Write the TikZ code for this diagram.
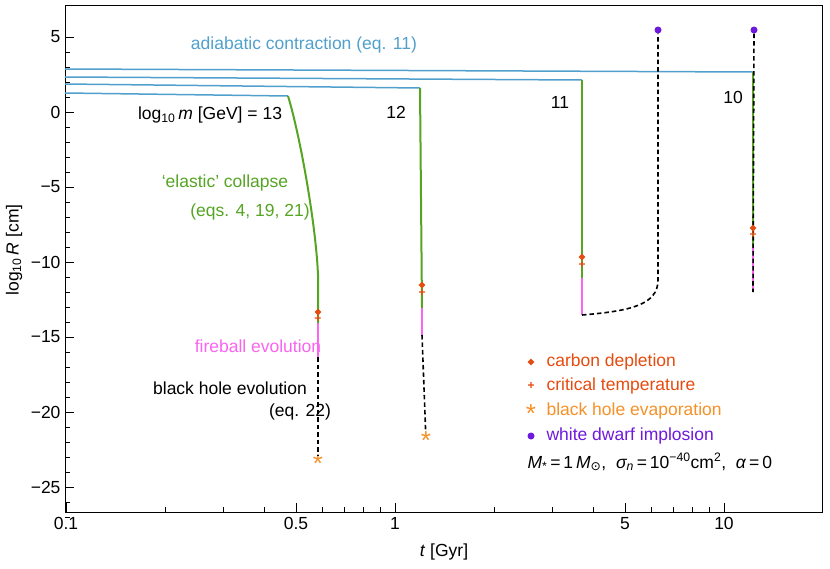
\documentclass[tikz,border=0pt]{standalone}
\usepackage{fontspec}
\setmainfont{Liberation Sans}
\newfontfamily\symfont{DejaVu Sans}
\usetikzlibrary{shapes.geometric}
\definecolor{adiab}{RGB}{80,160,205}
\definecolor{elast}{RGB}{85,165,35}
\definecolor{fireb}{RGB}{250,100,240}
\definecolor{carb}{RGB}{230,75,15}
\definecolor{evap}{RGB}{245,145,40}
\definecolor{wdimp}{RGB}{110,25,220}
\newcommand{\mn}{−}
\begin{document}
\begin{tikzpicture}[x=1pt,y=-1pt,font=\fontsize{17.5}{20}\selectfont,
  adia/.style={adiab,line width=1.5pt},
  coll/.style={elast,line width=2pt},
  fire/.style={fireb,line width=2pt},
  bh/.style={black,line width=1.6pt,dash pattern=on 4.5pt off 3pt},
  cdep/.style={diamond,fill=carb,inner sep=0pt,minimum size=7pt},
  ctemp/.style={font=\bfseries\fontsize{12}{12}\selectfont,text=carb,inner sep=0pt},
  bhev/.style={font=\fontsize{26}{26}\selectfont,text=evap,inner sep=0pt,yshift=-3pt},
  wdot/.style={circle,fill=wdimp,inner sep=0pt,minimum size=7pt}]
  \useasboundingbox (0,0) rectangle (830,568);
  % frame and ticks
  \draw[thin] (65,5) rectangle (822,512);
  \foreach \t in {0.2,0.3,0.4,0.6,0.7,0.8,0.9,2,3,4,6,7,8,9}
    \draw[thin] ({66+329*log10(\t*10)},512) -- +(0,-5);
  \foreach \t in {0.1,0.5,1,5,10}{
    \draw[thin] ({66+329*log10(\t*10)},512) -- +(0,-9);
    \node[anchor=north] at ({66+329*log10(\t*10)},514) {\t};}
  \foreach \r in {4,3,...,-27}
    \draw[thin] (65,{112-15*\r}) -- +(5,0);
  \foreach \r/\lab in {5/5,0/0,-5/\mn5,-10/\mn10,-15/\mn15,-20/\mn20,-25/\mn25}{
    \draw[thin] (65,{112-15*\r}) -- +(9,0);
    \node[anchor=east] at (64,{112-15*\r}) {\lab};}
  \node (xlab) at (444,552) {\textit{t} [Gyr]};
  \node[rotate=90] (ylab) at (14,250) {log\textsubscript{10}\,\textit{R} [cm]};
  % adiabatic contraction
  \coordinate (a13) at (288,96);
  \coordinate (a12) at (420,88);
  \coordinate (a11) at (582,80);
  \coordinate (a10) at (753,72);
  \draw[adia] (65,93) -- (a13);
  \draw[adia] (65,84) -- (a12);
  \draw[adia] (65,77) -- (a11);
  \draw[adia] (65,69) -- (a10);
  % m = 13
  \coordinate (p13) at (318,357);
  \draw[coll] (a13) .. controls (300,135) and (316,225) .. (318,275) -- (318,323);
  \draw[fire] (318,323) -- (p13);
  \node[bhev] (e13) at (318,461) {*};
  \draw[bh] (p13) -- (e13);
  \node[cdep] (d13) at (318,312) {};
  \node[ctemp] (c13) at (318,319) {+};
  % m = 12
  \coordinate (p12) at (422,335);
  \draw[coll] (a12) -- (422,308);
  \draw[fire] (422,308) -- (p12);
  \node[bhev] (e12) at (426,438) {*};
  \draw[bh] (p12) -- (e12);
  \node[cdep] (d12) at (422,285) {};
  \node[ctemp] (c12) at (422,293) {+};
  % m = 11
  \coordinate (p11) at (582,315);
  \node[wdot] (w11) at (658,30) {};
  \draw[coll] (a11) -- (582,278);
  \draw[fire] (582,278) -- (p11);
  \draw[bh] (p11) .. controls (630,311) and (658,305) .. (658,280) -- (w11);
  \node[cdep] (d11) at (582,257) {};
  \node[ctemp] (c11) at (582,265) {+};
  % m = 10
  \coordinate (p10) at (753,292);
  \node[wdot] (w10) at (754,30) {};
  \draw[coll] (a10) -- (753,247);
  \draw[fire] (753,247) -- (p10);
  \draw[bh] (w10) -- (p10);
  \node[cdep] (d10) at (753,228) {};
  \node[ctemp] (c10) at (753,235) {+};
  % labels
  \node[adiab] (ladia) at (304,45) {adiabatic contraction (eq. 11)};
  \node (l13) at (210,115) {log\textsubscript{10}\,\textit{m} [GeV] = 13};
  \node (l12) at (396,112) {12};
  \node (l11) at (560,102) {11};
  \node (l10) at (733,97) {10};
  \node[elast] (lcoll) at (225,183) {`elastic' collapse};
  \node[elast] (lcoll2) at (250,212) {(eqs. 4, 19, 21)};
  \node[fireb] (lfire) at (258,346) {fireball evolution};
  \node (lbh) at (230,388) {black hole evolution};
  \node (lbh2) at (300,412) {(eq. 22)};
  % legend
  \node[cdep] (kd) at (531,362) {};
  \node[ctemp] (kc) at (531,386) {+};
  \node[bhev] (ke) at (531,411) {*};
  \node[wdot] (kw) at (531,436) {};
  \node[carb,anchor=west] at (543,362) {carbon depletion};
  \node[carb,anchor=west] at (543,386) {critical temperature};
  \node[evap,anchor=west] at (543,411) {black hole evaporation};
  \node[wdimp,anchor=west] at (543,436) {white dwarf implosion};
  \node[anchor=west] (kpar) at (524,462) {\textit{M}\textsubscript{*}\,=\,1\,\textit{M}\textsubscript{{\symfont ⊙}},\ \ \textit{σ\textsubscript{n}}\,=\,10\textsuperscript{\mn40}cm\textsuperscript{2},\ \ \textit{α}\,=\,0};
\end{tikzpicture}
\end{document}
